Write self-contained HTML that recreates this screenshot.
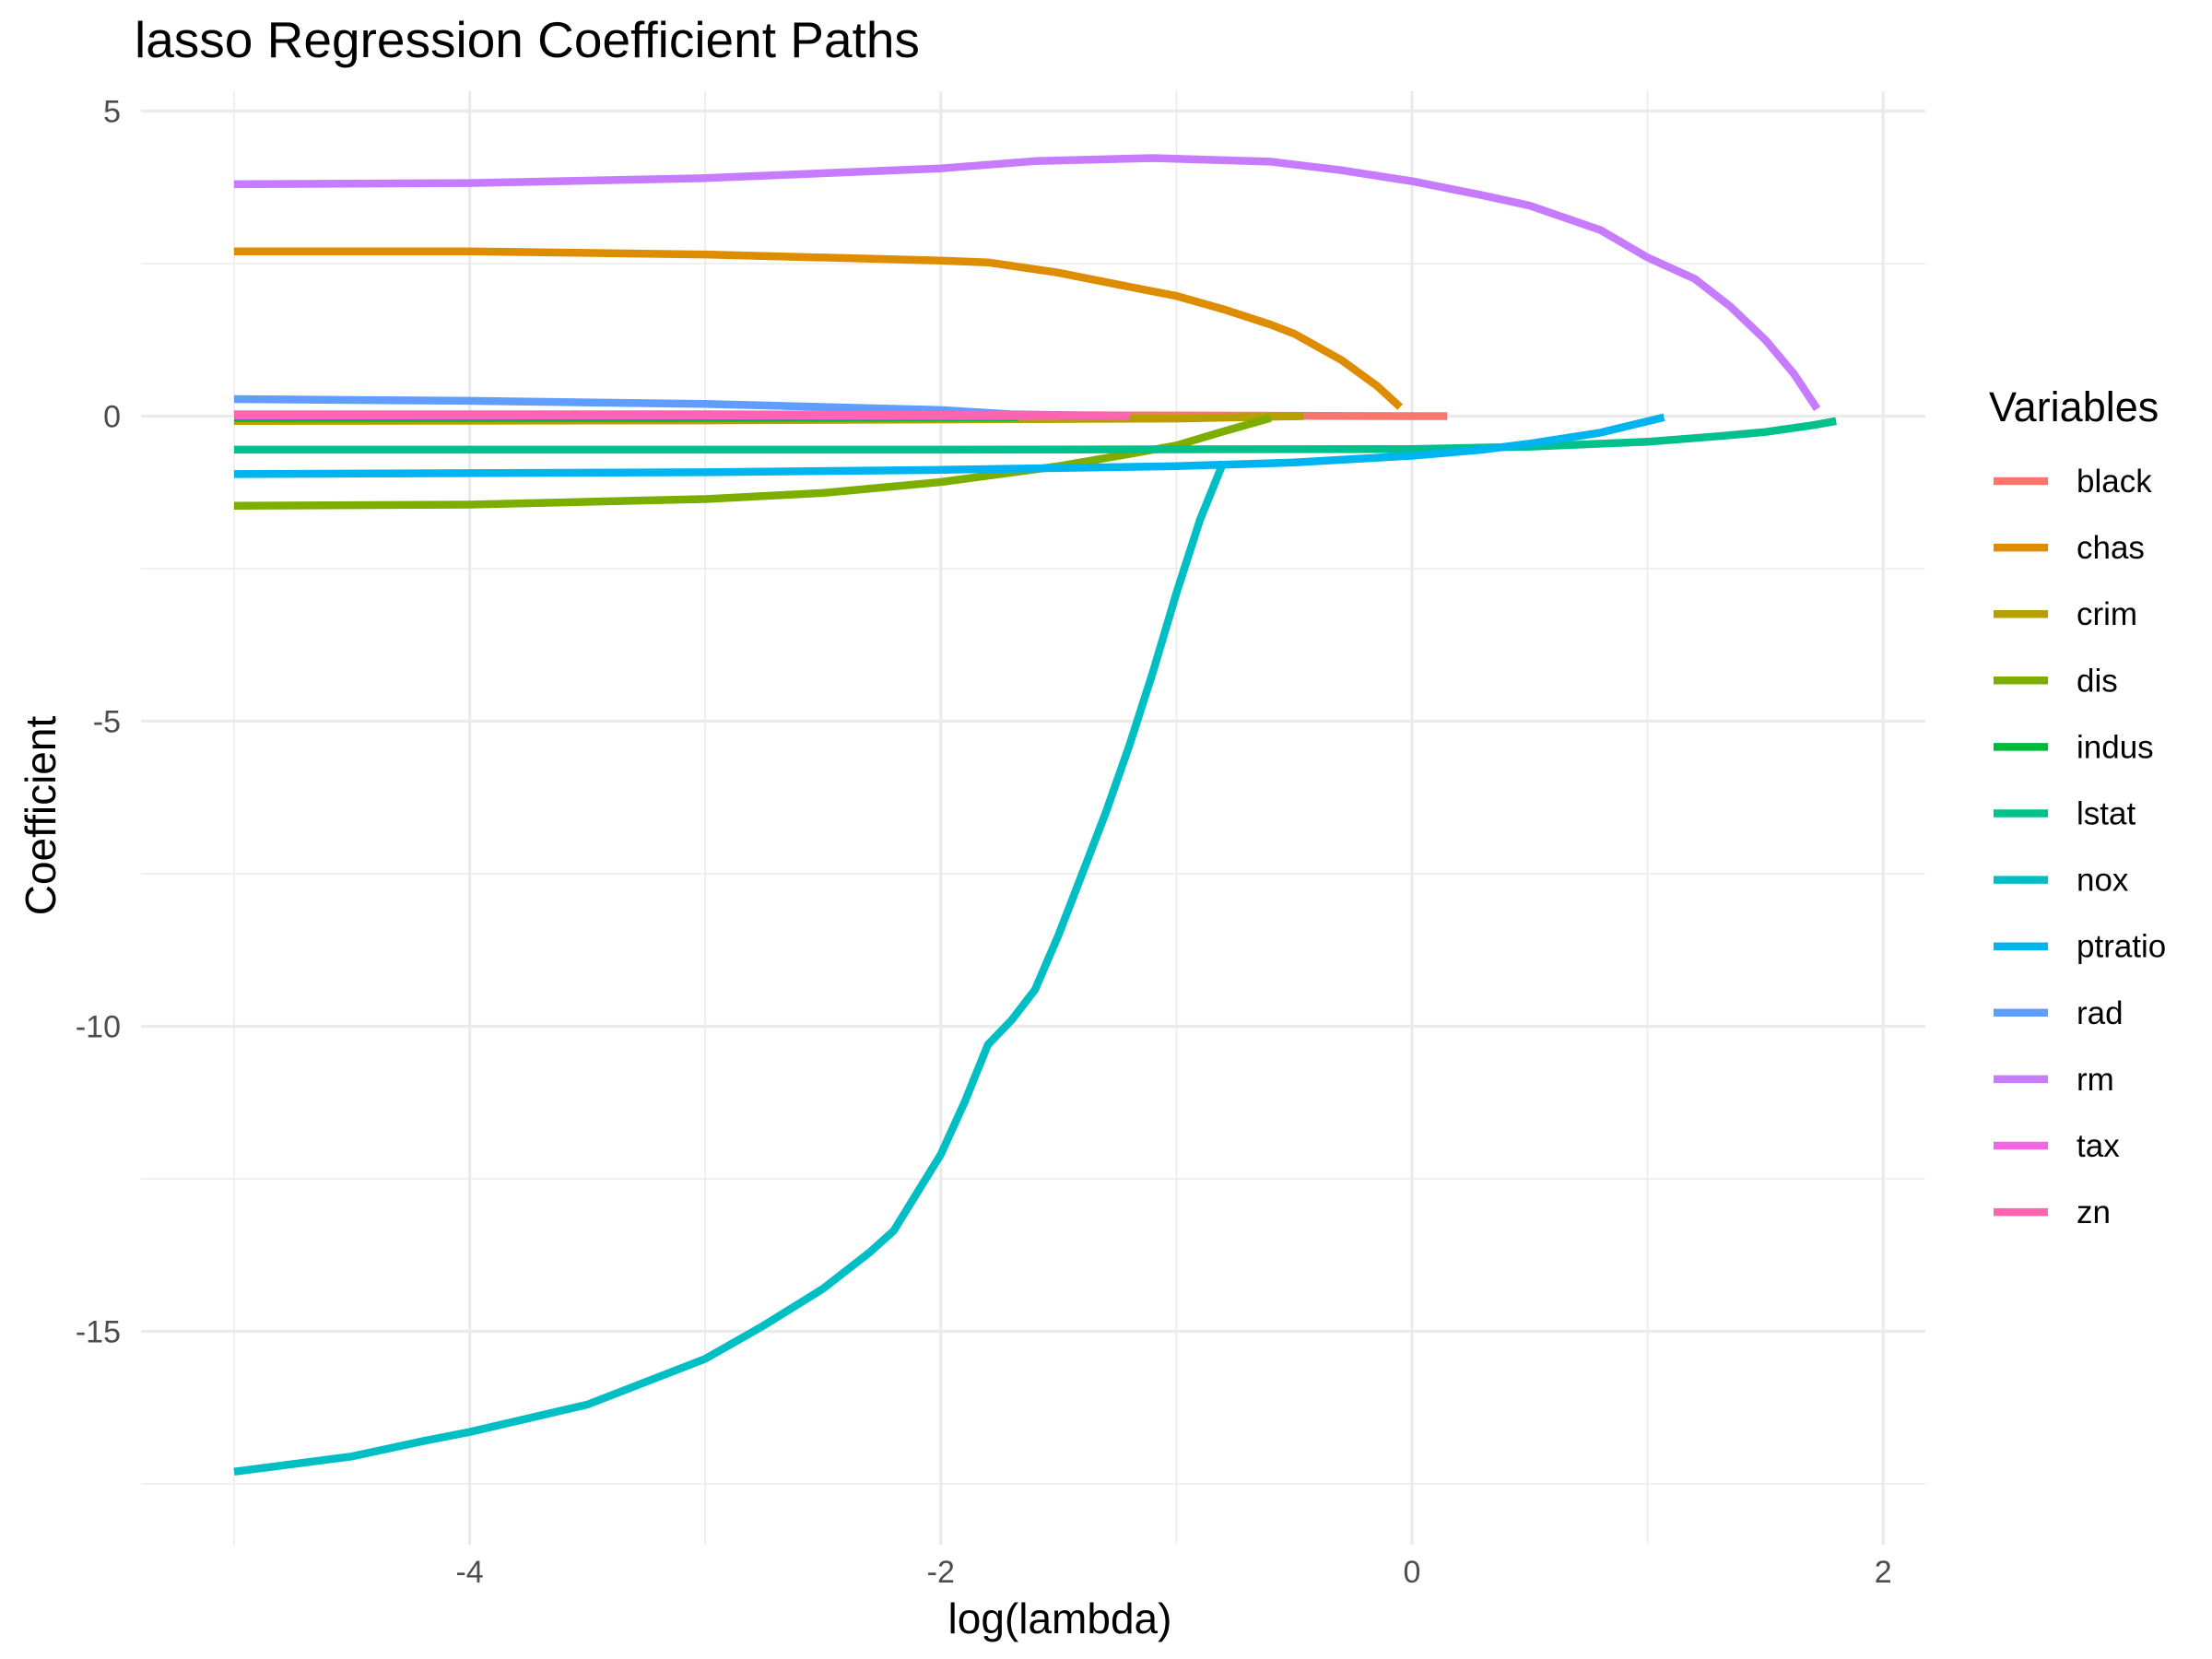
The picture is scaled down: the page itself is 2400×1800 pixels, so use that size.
<!DOCTYPE html>
<html><head><meta charset="utf-8"><style>
html,body{margin:0;padding:0;background:#fff;}
svg{display:block;font-family:"Liberation Sans",Arial,sans-serif;}
</style></head><body>
<svg id="chart" width="2400" height="1800" viewBox="0 0 2400 1800" xmlns="http://www.w3.org/2000/svg">
<rect x="0" y="0" width="2400" height="1800" fill="#fff"/>
<text x="146" y="62" font-size="55" fill="#000">lasso Regression Coefficient Paths</text>
<g id="grid"></g>
<g id="lines"></g>
<g id="axes"></g>
<text x="1150" y="1772" font-size="46" text-anchor="middle" fill="#000">log(lambda)</text>
<text transform="translate(60,885) rotate(-90)" font-size="46" text-anchor="middle" fill="#000">Coefficient</text>
<g id="legend"></g>
</svg>
<script>
const seriesNames = ["black","chas","crim","dis","indus","lstat","nox","ptratio","rad","rm","tax","zn"];
const seriesColors = ["#F8766D","#DE8C00","#B79F00","#7CAE00","#00BA38","#00C08B","#00BFC4","#00B4F0","#619CFF","#C77CFF","#F564E3","#FF64B0"];
const xTicks = [-4,-2,0,2];
const yTicks = [5,0,-5,-10,-15];
const blackX = [-5,-3,-1,0,0.15];
const blackY = [0.02,0.02,0.01,0.0,0.0];
const chasX = [-5,-4,-3,-2,-1.8,-1.5,-1.2,-1,-0.8,-0.6,-0.5,-0.3,-0.15,-0.05];
const chasY = [2.7,2.7,2.65,2.55,2.52,2.35,2.12,1.97,1.75,1.5,1.35,0.92,0.5,0.15];
const crimX = [-5,-3,-1,-0.46];
const crimY = [-0.08,-0.07,-0.04,0];
const disX = [-5,-4,-3,-2.5,-2,-1.5,-1.2,-1,-0.8,-0.6];
const disY = [-1.47,-1.45,-1.36,-1.26,-1.08,-0.82,-0.62,-0.48,-0.25,-0.03];
const indusX = [-5,-3,-1.67];
const indusY = [-0.03,-0.03,-0.02];
const lstatX = [-5,-2,0,0.5,1,1.3,1.5,1.7,1.8];
const lstatY = [-0.55,-0.55,-0.54,-0.5,-0.42,-0.33,-0.26,-0.15,-0.08];
const noxX = [-5,-4.5,-4.2,-4,-3.5,-3,-2.75,-2.5,-2.3,-2.2,-2,-1.9,-1.8,-1.7,-1.6,-1.5,-1.4,-1.3,-1.2,-1.1,-1,-0.9,-0.8];
const noxY = [-17.3,-17.05,-16.8,-16.65,-16.2,-15.45,-14.9,-14.3,-13.7,-13.35,-12.1,-11.25,-10.3,-9.9,-9.4,-8.5,-7.5,-6.5,-5.4,-4.2,-2.9,-1.7,-0.75];
const ptratioX = [-5,-3,-2,-1,-0.5,0,0.3,0.5,0.8,1.07];
const ptratioY = [-0.95,-0.92,-0.88,-0.82,-0.76,-0.65,-0.55,-0.45,-0.27,-0.02];
const radX = [-5,-4,-3,-2,-1.7,-1.2];
const radY = [0.28,0.25,0.2,0.1,0.03,0];
const rmX = [-5,-4,-3,-2,-1.6,-1.1,-0.6,-0.3,0,0.3,0.5,0.8,1,1.2,1.35,1.5,1.62,1.72];
const rmY = [3.8,3.82,3.9,4.06,4.18,4.23,4.17,4.03,3.85,3.62,3.45,3.05,2.6,2.25,1.8,1.25,0.7,0.12];
const taxX = [-5,-3,-1.5];
const taxY = [0.01,0.01,0.0];
const znX = [-5,-3,-2,-1.2];
const znY = [0.03,0.03,0.02,0.01];
const allX = [blackX,chasX,crimX,disX,indusX,lstatX,noxX,ptratioX,radX,rmX,taxX,znX];
const allY = [blackY,chasY,crimY,disY,indusY,lstatY,noxY,ptratioY,radY,rmY,taxY,znY];

const NS = "http://www.w3.org/2000/svg";
const PL = 153, PR = 2089, PT = 99, PB = 1676;
function xs(v){ return 1532 + v * 255.6; }
function ys(v){ return 451.5 - v * 66.2; }
function mk(tag, attrs, parent){ const e = document.createElementNS(NS, tag); for (const k in attrs) e.setAttribute(k, attrs[k]); parent.appendChild(e); return e; }

const grid = document.getElementById("grid");
for (let v = -5; v <= 2; v += 1) {
  const major = xTicks.includes(v);
  const l = mk("line", {x1: xs(v), x2: xs(v), y1: PT, y2: PB, stroke: "#ebebeb", "stroke-width": major ? 3.2 : 1.6}, grid);
  
  
}
for (let v = -17.5; v <= 5; v += 2.5) {
  const major = yTicks.includes(v);
  const l = mk("line", {x1: PL, x2: PR, y1: ys(v), y2: ys(v), stroke: "#ebebeb", "stroke-width": major ? 3.2 : 1.6}, grid);
  
  
}

const axes = document.getElementById("axes");
xTicks.forEach(v => {
  const t = mk("text", {x: xs(v), y: 1717, "font-size": 34, fill: "#4d4d4d", "text-anchor": "middle"}, axes);
  t.textContent = String(v);
  
  
});
yTicks.forEach(v => {
  const t = mk("text", {x: 131, y: ys(v) + 12, "font-size": 34, fill: "#4d4d4d", "text-anchor": "end"}, axes);
  t.textContent = String(v);
  
  
});

const lines = document.getElementById("lines");
seriesNames.forEach((n, i) => {
  const X = allX[i], Y = allY[i];
  const d = X.map((x, j) => (j ? "L" : "M") + xs(x).toFixed(1) + "," + ys(Y[j]).toFixed(1)).join(" ");
  const p = mk("path", {d: d, fill: "none", stroke: seriesColors[i], "stroke-width": 8.5, "stroke-linejoin": "round"}, lines);
  
  
});

const legend = document.getElementById("legend");
const lt = mk("text", {x: 2158, y: 457, "font-size": 45, fill: "#000"}, legend);
lt.textContent = "Variables";


seriesNames.forEach((n, i) => {
  const y = 522 + i * 72.1;
  const g = mk("g", {}, legend);
  
  
  mk("line", {x1: 2163, x2: 2222, y1: y, y2: y, stroke: seriesColors[i], "stroke-width": 8.5}, g);
  const t = mk("text", {x: 2253, y: y + 12, "font-size": 35, fill: "#000"}, g);
  t.textContent = n;
});
</script>
</body></html>
